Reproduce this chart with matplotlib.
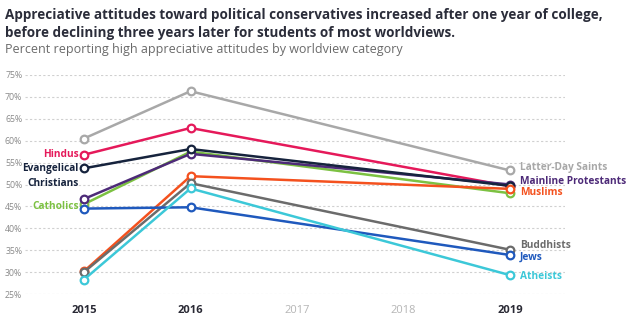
import matplotlib
matplotlib.use("Agg")
import matplotlib.pyplot as plt

plt.rcParams['font.family'] = ['Open Sans', 'DejaVu Sans']

years = [2015, 2016, 2019]
groups = ["Latter-Day Saints", "Hindus", "Catholics", "Mainline Protestants",
          "Evangelical Christians", "Muslims", "Buddhists", "Jews", "Atheists"]
lds = [60.5, 71.3, 53.2]
hindus = [56.8, 62.9, 49.6]
catholics = [45.5, 57.5, 48.0]
mainline = [46.7, 57.0, 50.0]
evangelical = [53.7, 58.1, 49.7]
muslims = [30.2, 51.9, 49.0]
buddhists = [30.0, 50.3, 35.1]
jews = [44.5, 44.8, 33.9]
atheists = [28.3, 49.1, 29.3]
values = [lds, hindus, catholics, mainline, evangelical, muslims, buddhists, jews, atheists]
colors = ["#a8a8a8", "#e5195a", "#7cc142", "#4d2a78", "#16233d",
          "#f4511e", "#6b6b6b", "#1f59bd", "#3cc8d8"]
xtick_years = [2015, 2016, 2017, 2018, 2019]
ytick_vals = [25, 30, 35, 40, 45, 50, 55, 60, 65, 70, 75]

fig = plt.figure(figsize=(6.37, 3.28), dpi=100)
ax = fig.add_axes([25/637, 1-294/328, 540/637, 219/328])

for vals, c in zip(values, colors):
    ax.plot(years, vals, color=c, lw=1.8, marker='o', ms=5.5, mfc='white',
            mec=c, mew=1.6, zorder=3, solid_capstyle='round')

ax.set_xlim(2014.446, 2019.516)
ax.set_ylim(25, 75)
ax.set_yticks(ytick_vals)
ax.set_yticklabels([f"{v}%" for v in ytick_vals], fontsize=6.3, color="#8a8a8a")
ax.set_xticks(xtick_years)
ax.set_xticklabels([str(y) for y in xtick_years], fontsize=8)
for lbl, y in zip(ax.get_xticklabels(), xtick_years):
    if y in (2017, 2018):
        lbl.set_color("#b5b5b5")
    else:
        lbl.set_color("#2a2a35")
        lbl.set_fontweight('bold')
ax.tick_params(axis='both', length=0)
ax.tick_params(axis='y', pad=2.0)
ax.tick_params(axis='x', pad=8)
for s in ax.spines.values():
    s.set_visible(False)
ax.yaxis.grid(True, ls=(0, (2, 2)), color="#d0d0d0", lw=0.8)
ax.set_axisbelow(True)

def lab(x, y, text, color, ha):
    ax.text(x, y, text, color=color, fontsize=7.3, fontweight='bold', ha=ha,
            va='center', clip_on=False)

# left labels
lab(2014.95, 56.8, "Hindus", colors[1], 'right')
lab(2014.95, 53.6, "Evangelical", colors[4], 'right')
lab(2014.95, 50.3, "Christians", colors[4], 'right')
lab(2014.95, 45.0, "Catholics", colors[2], 'right')
# right labels
lab(2019.09, 53.9, "Latter-Day Saints", colors[0], 'left')
lab(2019.09, 50.6, "Mainline Protestants", colors[3], 'left')
lab(2019.09, 48.1, "Muslims", colors[5], 'left')
lab(2019.09, 36.05, "Buddhists", colors[6], 'left')
lab(2019.09, 33.5, "Jews", colors[7], 'left')
lab(2019.09, 29.0, "Atheists", colors[8], 'left')

fig.text(5/637, 1-15/328, "Appreciative attitudes toward political conservatives increased after one year of college,",
         fontsize=9.75, fontweight='bold', color="#2b2d3a", va='center', ha='left')
fig.text(5/637, 1-33/328, "before declining three years later for students of most worldviews.",
         fontsize=9.75, fontweight='bold', color="#2b2d3a", va='center', ha='left')
fig.text(5/637, 1-50/328, "Percent reporting high appreciative attitudes by worldview category",
         fontsize=9.0, color="#6a6a6a", va='center', ha='left')

fig.savefig("out.png", dpi=100)
